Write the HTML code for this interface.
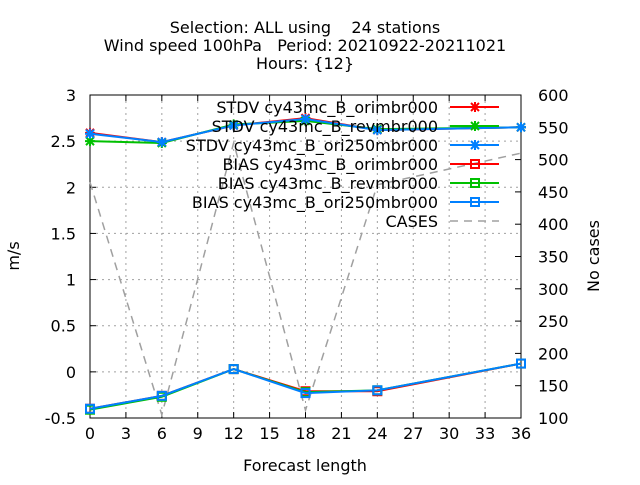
<!DOCTYPE html>
<html><head><meta charset="utf-8"><style>
body{margin:0;background:#fff}
svg text{font-family:"DejaVu Sans","Liberation Sans",sans-serif;font-size:16px;fill:#000}
</style></head><body>
<svg id="chart" width="640" height="480" xmlns="http://www.w3.org/2000/svg">
<g>
<text x="305" y="33" text-anchor="middle" xml:space="preserve">Selection: ALL using    24 stations</text>
<text x="305" y="51" text-anchor="middle" xml:space="preserve">Wind speed 100hPa   Period: 20210922-20211021</text>
<text x="305" y="69" text-anchor="middle">Hours: {12}</text>
</g>
<g id="grid"></g>
<g id="axes"></g>
<g id="series"></g>
<g id="legend"></g>
<text x="305" y="471" text-anchor="middle">Forecast length</text>
<text transform="translate(19,256) rotate(-90)" text-anchor="middle">m/s</text>
<text transform="translate(599,256) rotate(-90)" text-anchor="middle">No cases</text>
</svg>
<script>
const leadTimes=[0,6,12,18,24,36];
const stdvOri=[2.59,2.49,2.67,2.75,2.62,2.65];
const stdvRev=[2.50,2.48,2.68,2.72,2.63,2.65];
const stdvOri250=[2.58,2.49,2.67,2.74,2.62,2.65];
const biasOri=[-0.40,-0.26,0.03,-0.21,-0.21,0.09];
const biasRev=[-0.41,-0.27,0.03,-0.22,-0.20,0.09];
const biasOri250=[-0.40,-0.26,0.03,-0.23,-0.20,0.09];
const cases=[465,105,526,112,461,510];
const xTicks=[0,3,6,9,12,15,18,21,24,27,30,33,36];
const yTicks=[-0.5,0,0.5,1,1.5,2,2.5,3];
const y2Ticks=[100,150,200,250,300,350,400,450,500,550,600];

const L=90,R=521,T=95,B=418;
const X=v=>L+(v/36)*(R-L);
const Y=v=>B-(v+0.5)/3.5*(B-T);
const Y2=v=>B-(v-100)/500*(B-T);
const NS="http://www.w3.org/2000/svg";
function mk(tag,attrs,parent){const e=document.createElementNS(NS,tag);for(const k in attrs)e.setAttribute(k,attrs[k]);parent.appendChild(e);return e;}
const grid=document.getElementById('grid'),axes=document.getElementById('axes'),ser=document.getElementById('series'),leg=document.getElementById('legend');

xTicks.forEach(t=>{
  const x=X(t);
  if(t>0&&t<36){const g=mk('line',{x1:x,y1:T,x2:x,y2:B,stroke:'#a0a0a0','stroke-dasharray':'2,4'},grid);
  
  }
  mk('line',{x1:x,y1:B,x2:x,y2:B-6,stroke:'#000'},axes);
  mk('line',{x1:x,y1:T,x2:x,y2:T+6,stroke:'#000'},axes);
  const tx=mk('text',{x:x,y:B+21,'text-anchor':'middle'},axes);tx.textContent=t;
  
  
});
yTicks.forEach(t=>{
  const y=Y(t);
  if(t>-0.5&&t<3){const g=mk('line',{x1:L,y1:y,x2:R,y2:y,stroke:'#a0a0a0','stroke-dasharray':'2,4'},grid);
  
  }
  mk('line',{x1:L,y1:y,x2:L+6,y2:y,stroke:'#000'},axes);
  const tx=mk('text',{x:L-14,y:y+6,'text-anchor':'end'},axes);tx.textContent=t;
  
  
});
y2Ticks.forEach(t=>{
  const y=Y2(t);
  mk('line',{x1:R,y1:y,x2:R-6,y2:y,stroke:'#000'},axes);
  const tx=mk('text',{x:R+17,y:y+6,'text-anchor':'start'},axes);tx.textContent=t;
  
  
});
const frame=mk('rect',{x:L,y:T,width:R-L,height:B-T,fill:'none',stroke:'#000'},axes);



function star(g,x,y,c){mk('path',{d:`M${x-4},${y-4}L${x+4},${y+4}M${x-4},${y+4}L${x+4},${y-4}M${x-5},${y}L${x+5},${y}M${x},${y-5}L${x},${y+5}`,stroke:c,'stroke-width':2},g);}
function sq(g,x,y,c){mk('rect',{x:x-4,y:y-4,width:8,height:8,fill:'none',stroke:c,'stroke-width':2},g);}

const cg=mk('g',{},ser);


mk('polyline',{points:leadTimes.map((t,i)=>X(t)+','+Y2(cases[i])).join(' '),fill:'none',stroke:'#a0a0a0','stroke-width':1.5,'stroke-dasharray':'8,6'},cg);

const seriesDefs=[
 ['stdv-ori',stdvOri,'#ff0000',star,'STDV cy43mc_B_orimbr000'],
 ['stdv-rev',stdvRev,'#00c000',star,'STDV cy43mc_B_revmbr000'],
 ['stdv-ori250',stdvOri250,'#0080ff',star,'STDV cy43mc_B_ori250mbr000'],
 ['bias-ori',biasOri,'#ff0000',sq,'BIAS cy43mc_B_orimbr000'],
 ['bias-rev',biasRev,'#00c000',sq,'BIAS cy43mc_B_revmbr000'],
 ['bias-ori250',biasOri250,'#0080ff',sq,'BIAS cy43mc_B_ori250mbr000']];

seriesDefs.forEach((s,i)=>{
  const y=107+i*19;
  const g=mk('g',{},leg);
  
  
  const tx=mk('text',{x:438,y:y+6,'text-anchor':'end'},g);tx.textContent=s[4];
  mk('line',{x1:450,y1:y,x2:499,y2:y,stroke:s[2],'stroke-width':2},g);
  s[3](g,475,y,s[2]);
});
{const y=107+6*19;const g=mk('g',{},leg);


const tx=mk('text',{x:438,y:y+6,'text-anchor':'end'},g);tx.textContent='CASES';
mk('line',{x1:450,y1:y,x2:499,y2:y,stroke:'#a0a0a0','stroke-width':1.5,'stroke-dasharray':'8,6'},g);}

seriesDefs.forEach(s=>{
  const g=mk('g',{},ser);
  
  
  mk('polyline',{points:leadTimes.map((t,i)=>X(t)+','+Y(s[1][i])).join(' '),fill:'none',stroke:s[2],'stroke-width':2},g);
  leadTimes.forEach((t,i)=>s[3](g,X(t),Y(s[1][i]),s[2]));
});
</script>
</body></html>
